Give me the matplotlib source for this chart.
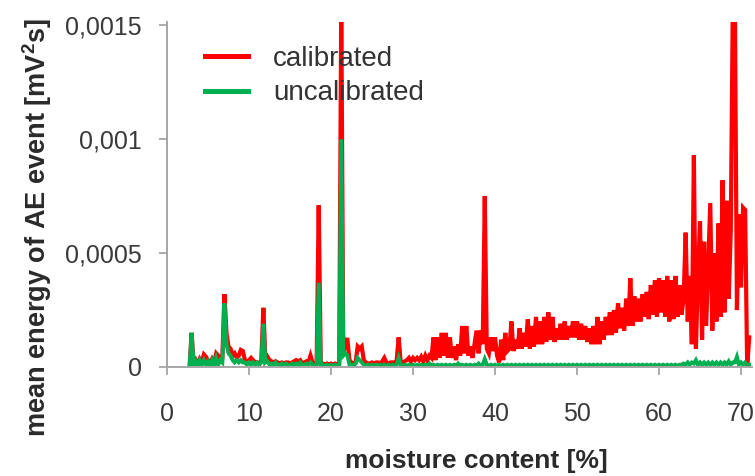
import matplotlib.pyplot as plt
import numpy as np
from matplotlib.lines import Line2D

# moisture content sampled every 0.25 % starting at 2.75 %
moisture_start = 2.75
moisture_step = 0.25

# mean energy of AE event, in units of 1e-5 mV^2 s (one row = 1 % moisture)
calibrated = [
    0, 15, 1.5, 3,      1, 3.5, 2, 5.5,      4.5, 3, 1.5, 3.5,    2, 6, 5, 3.5,
    4, 32, 15, 9,       8, 5, 6, 4,          5, 7.5, 7, 3,        2, 3, 4, 3,
    2, 2, 1.5, 3,       26, 3, 4.5, 3,       2.5, 1.5, 2.5, 2,    1.5, 2, 1.5, 2,
    2, 1.5, 2, 2.5,     3, 2.5, 3, 1.5,      2, 2.5, 2, 5,        2, 1.5, 2, 71,
    1.5, 1.5, 1, 1.5,   1, 1.5, 1, 1.5,      1, 1.5, 160, 5,      12, 12, 3, 2,
    1.5, 2, 9, 8,       9, 3, 2, 1.5,        1.5, 2, 1.5, 2,      2, 1.5, 2.5, 4,
    2, 1.5, 2, 2,       2, 2.5, 13, 2,       2, 2.5, 3, 4,        2.5, 4, 3, 4,
    3, 4.5, 2.5, 5,     3, 5, 4, 13,         3, 13, 4, 15,        5, 15, 4, 13,
    4, 9, 3, 10,        5, 18, 6, 18,        5, 9, 4, 10,         16, 6, 16, 10,
    75, 8, 6, 13,       7, 13, 5, 2,         12, 3, 15, 7,        8, 20, 7, 12,
    8, 17, 8, 15,       9, 21, 8, 18,        9, 22, 10, 20,       10, 22, 11, 24,
    12, 22, 11, 17,     12, 19, 12, 20,      12, 18, 13, 20,      13, 20, 12, 19,
    12, 18, 11, 17,     10, 18, 10, 22,      10, 20, 12, 22,      14, 24, 14, 25,
    15, 28, 17, 26,     16, 30, 18, 39,      18, 31, 20, 30,      20, 32, 22, 33,
    21, 36, 23, 38,     22, 39, 24, 38,      22, 40, 20, 38,      21, 40, 22, 36,
    23, 30, 59, 20,     40, 10, 93, 8,       40, 64, 12, 55,      18, 45, 72, 16,
    50, 20, 63, 22,     82, 24, 73, 30,      60, 160, 160, 25,    67, 35, 70, 69,
    0, 13,
]
uncalibrated = [
    0, 15, 1, 2.5,      0.5, 3, 1, 3,        1, 2.5, 0.5, 3,      0.5, 4, 1, 3,
    2, 28, 10, 6,       5, 3, 2, 3,          2, 3, 2, 2,          1, 2, 1, 2,
    1, 2, 1, 2,         19, 2, 2.5, 1,       1.5, 0.5, 2, 1,      0.5, 1.5, 0.5, 1.5,
    1, 0.5, 1.5, 1,     1.5, 1, 2, 0.5,      1, 1.5, 1, 2,        1, 0.5, 1, 37,
    0.5, 1, 0.5, 1,     0.5, 1, 0.5, 1,      0.5, 1, 100, 5,      6, 5, 1, 1,
    0.5, 1.5, 4, 3,     2, 1, 0.5, 1,        0.5, 1, 0.5, 1,      0.5, 1, 0.5, 1,
    0.5, 1, 0.5, 1,     0.5, 1, 4, 1,        0.5, 1, 0.5, 1,      0.5, 1, 0.5, 1,
    0.5, 1, 0.5, 1,     0.5, 1.5, 0.5, 1,    0.5, 1, 0.5, 1,      0.5, 1, 0.5, 1,
    0.5, 1, 0.5, 1.5,   0.5, 1, 0.5, 1,      0.5, 1, 0.5, 1,      0.5, 1.5, 0.5, 1,
    3.5, 1, 0.5, 1,     0.5, 1, 0.5, 1,      0.5, 1, 0.5, 1,      0.5, 1, 0.5, 1,
    0.5, 1, 0.5, 1,     0.5, 1, 0.5, 1,      0.5, 1, 0.5, 1,      0.5, 1, 0.5, 1,
    0.5, 1, 0.5, 1,     0.5, 1, 0.5, 1,      0.5, 1, 0.5, 1,      0.5, 1, 0.5, 1,
    0.5, 1, 0.5, 1,     0.5, 1, 0.5, 1,      0.5, 1, 0.5, 1,      0.5, 1, 0.5, 1,
    0.5, 1, 0.5, 1,     0.5, 1, 0.5, 1,      0.5, 1, 0.5, 1,      0.5, 1, 0.5, 1,
    0.5, 1, 0.5, 1,     0.5, 1, 0.5, 1,      0.5, 1, 0.5, 1,      0.5, 1, 0.5, 1,
    1, 1.5, 1, 2,       1, 2, 1.5, 3,        1, 2, 1, 2,          1, 2, 1, 2,
    1, 2, 1, 2,         1, 2, 1, 2.5,        1, 2, 2, 4.5,        1, 2, 1, 2,
    1, 1,
]

x_ticks = [0, 10, 20, 30, 40, 50, 60, 70]
y_ticks = [0, 0.0005, 0.001, 0.0015]
y_tick_labels = ["0", "0,0005", "0,001", "0,0015"]

plt.rcParams["font.family"] = ["Liberation Sans", "DejaVu Sans"]
plt.rcParams["mathtext.fontset"] = "custom"
plt.rcParams["mathtext.bf"] = "Liberation Sans:bold"

moisture = moisture_start + moisture_step * np.arange(len(calibrated))
cal = np.array(calibrated) * 1e-5
uncal = np.array(uncalibrated) * 1e-5

fig = plt.figure(figsize=(7.55, 4.76), dpi=100)
ax = fig.add_axes([0.2212, 0.229, 0.7744, 0.7248])

ax.plot(moisture, cal, color="#ff0000", lw=3.0, solid_joinstyle="miter")
ax.plot(moisture, uncal, color="#00b050", lw=2.8, solid_joinstyle="miter")

ax.set_xlim(0, 71.3)
ax.set_ylim(0, 0.001515)
ax.set_xticks(x_ticks)
ax.set_yticks(y_ticks, y_tick_labels)

for side in ["top", "right"]:
    ax.spines[side].set_visible(False)
for side in ["left", "bottom"]:
    ax.spines[side].set_color("#a6a6a6")
    ax.spines[side].set_linewidth(1.4)

ax.tick_params(direction="out", length=6, width=1.3, color="#a6a6a6",
               labelsize=18, labelcolor="#3a3a3a")
ax.tick_params(axis="x", pad=19)
ax.tick_params(axis="y", pad=12)

handles = [Line2D([], [], color="#ff0000", lw=3.6),
           Line2D([], [], color="#00b050", lw=3.6)]
ax.legend(handles, ["calibrated", "uncalibrated"], loc="upper left",
          bbox_to_anchor=(0.065, 0.93), frameon=False, fontsize=20,
          handlelength=1.55, handletextpad=0.9, labelspacing=0.3,
          borderpad=0, borderaxespad=0, labelcolor="#333333")

fig.text(476 / 755, 1 - 461 / 476, "moisture content [%]", ha="center",
         va="center", fontsize=19, fontweight="bold", color="#2a2a2a")
fig.text(37 / 755, 1 - 227 / 476, r"mean energy of AE event [mV$^\mathbf{2}$s]",
         ha="center", va="center", rotation=90, fontsize=19.5,
         fontweight="bold", color="#2a2a2a")

fig.savefig("out.png", dpi=100, facecolor="white")
